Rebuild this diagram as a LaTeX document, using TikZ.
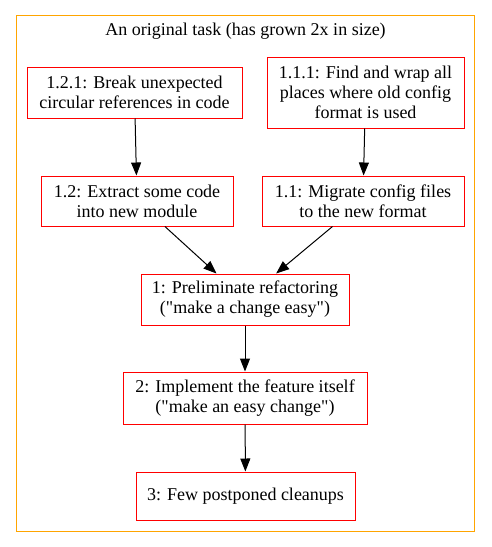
\documentclass[tikz,border=0pt]{standalone}
\usepackage{fontspec}
\setmainfont{Liberation Serif}
\usepackage{tikz}
\usetikzlibrary{arrows.meta}
\definecolor{ClusterOrange}{RGB}{255,165,0}
\definecolor{TaskRed}{RGB}{255,0,0}
\tikzset{
  cluster/.style={draw=ClusterOrange, line width=1pt, inner sep=0pt},
  grouptitle/.style={font=\fontsize{18}{20}\selectfont, inner sep=0pt},
  task/.style={draw=TaskRed, line width=1pt, align=center, inner sep=0pt,
    font=\fontsize{18}{20}\selectfont},
  dep/.style={-{Triangle[length=13pt,width=10pt]}, line width=1pt, black},
}

\begin{document}
\begin{tikzpicture}[x=1pt,y=-1pt]
  \useasboundingbox (0,0) rectangle (491,547);
  % the grown task
  \node[cluster, minimum width=458pt, minimum height=516pt] (grp) at (245,273) {};
  \node[grouptitle] (grptitle) at (245.5,31) {An original task (has grown 2x in size)};

  \node[task, minimum width=215pt, minimum height=51pt] (t121) at (134.5,92.5)
    {1.2.1: Break unexpected\\circular references in code};
  \node[task, minimum width=197pt, minimum height=71pt] (t111) at (365.5,92.5)
    {1.1.1: Find and wrap all\\places where old config\\format is used};
  \node[task, minimum width=192pt, minimum height=50pt] (t12) at (137,201)
    {1.2: Extract some code\\into new module};
  \node[task, minimum width=202pt, minimum height=50pt] (t11) at (363,201)
    {1.1: Migrate config files\\to the new format};
  \node[task, minimum width=208pt, minimum height=51pt] (t1) at (245,299.5)
    {1: Preliminate refactoring\\(\textquotedbl make a change easy\textquotedbl)};
  \node[task, minimum width=244pt, minimum height=52pt] (t2) at (245,398)
    {2: Implement the feature itself\\(\textquotedbl make an easy change\textquotedbl)};
  \node[task, minimum width=219pt, minimum height=48pt] (t3) at (245.5,496)
    {3: Few postponed cleanups};

  % dependencies
  \draw[dep] (t121) -- (t12);
  \draw[dep] (t111) -- (t11);
  \draw[dep] (t12) -- (t1);
  \draw[dep] (t11) -- (t1);
  \draw[dep] (t1) -- (t2);
  \draw[dep] (t2) -- (t3);
\end{tikzpicture}
\end{document}
